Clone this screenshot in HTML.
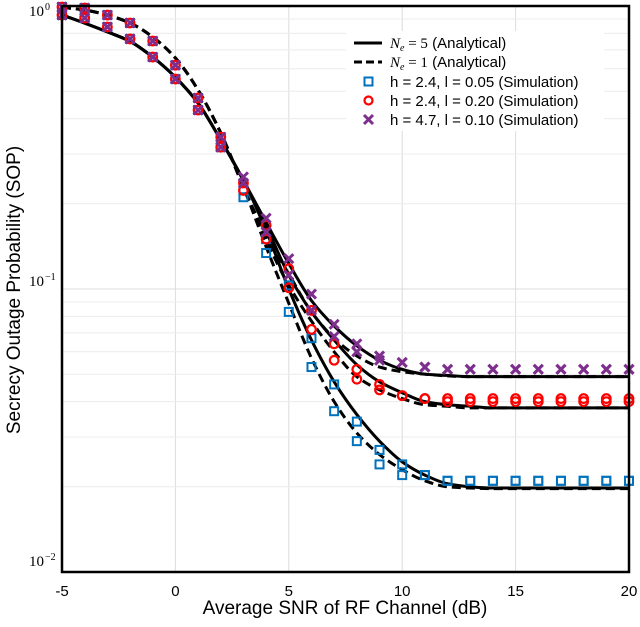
<!DOCTYPE html>
<html><head><meta charset="utf-8"><style>
body{margin:0;background:#fff;}
svg{display:block;font-family:"Liberation Sans",sans-serif;}
</style></head><body>
<svg id="chart" width="640" height="627" viewBox="0 0 640 627">
<rect width="640" height="627" fill="#fff"/>
<g id="grid"></g>
<g id="curves"></g>
<g id="markers"></g>
<rect x="62" y="6" width="567" height="566" fill="none" stroke="#000" stroke-width="2.5"/>
<g id="xticks"></g>
<g id="yticks"></g>
<text x="345" y="614" font-size="19" text-anchor="middle">Average SNR of RF Channel (dB)</text>
<text transform="translate(20,290) rotate(-90)" font-size="19" text-anchor="middle">Secrecy Outage Probability (SOP)</text>
<g id="legend">
<rect x="346" y="31" width="258" height="100" fill="#fff"/>
<g>
<line x1="354" y1="43" x2="382" y2="43" stroke="#000" stroke-width="3"/>
<text x="390" y="48" font-size="15"><tspan font-family="Liberation Serif" font-style="italic">N<tspan font-size="10" dy="3">e</tspan></tspan><tspan dy="-3" font-family="Liberation Serif"> = 5</tspan> (Analytical)</text></g>
<g>
<line x1="354" y1="62" x2="382" y2="62" stroke="#000" stroke-width="3" stroke-dasharray="8,4"/>
<text x="390" y="67" font-size="15"><tspan font-family="Liberation Serif" font-style="italic">N<tspan font-size="10" dy="3">e</tspan></tspan><tspan dy="-3" font-family="Liberation Serif"> = 1</tspan> (Analytical)</text></g>
<g>
<rect x="364.5" y="77.5" width="8" height="8" fill="none" stroke="#0072BD" stroke-width="2"/>
<text x="390" y="87" font-size="15">h = 2.4, l = 0.05 (Simulation)</text></g>
<g>
<circle cx="368.5" cy="100.5" r="4" fill="none" stroke="#f00" stroke-width="2.2"/>
<text x="390" y="106" font-size="15">h = 2.4, l = 0.20 (Simulation)</text></g>
<g>
<path d="M364,115 L373,124 M373,115 L364,124" stroke="#7E2F8E" stroke-width="3"/>
<text x="390" y="125" font-size="15">h = 4.7, l = 0.10 (Simulation)</text></g>
</g>
</svg>
<script>
const xs = [-5,-4,-3,-2,-1,0,1,2,3,4,5,6,7,8,9,10,11,12,13,14,15,16,17,18,19,20];
const xTicks = [-5,0,5,10,15,20];
const yTickExp = [0,-1,-2];
const early5 = [0.93,0.87,0.81,0.75,0.66,0.56,0.454,0.336,0.242];
const early1 = [0.99,0.968,0.929,0.871,0.777,0.655,0.505,0.356,0.229];
const purpleSolid = early5.concat([0.172,0.123,0.091,0.074,0.063,0.056,0.052,0.050,0.0495,0.049,0.049,0.049,0.049,0.049,0.049,0.049,0.049]);
const purpleDash  = early1.concat([0.155,0.113,0.083,0.067,0.058,0.053,0.051,0.050,0.0493,0.049,0.049,0.049,0.049,0.049,0.049,0.049,0.049]);
const redSolid = early5.concat([0.167,0.112,0.083,0.066,0.054,0.047,0.043,0.040,0.039,0.0385,0.038,0.038,0.038,0.038,0.038,0.038,0.038]);
const redDash  = early1.concat([0.149,0.103,0.077,0.060,0.049,0.044,0.041,0.039,0.0385,0.038,0.038,0.038,0.038,0.038,0.038,0.038,0.038]);
const blueSolid = early5.concat([0.161,0.100,0.066,0.047,0.036,0.029,0.0245,0.022,0.0205,0.020,0.0198,0.0198,0.0198,0.0198,0.0198,0.0198,0.0198]);
const blueDash  = early1.concat([0.141,0.089,0.057,0.040,0.031,0.026,0.023,0.021,0.020,0.0198,0.0197,0.0197,0.0197,0.0197,0.0197,0.0197,0.0197]);
const earlyA = [0.992,0.984,0.929,0.871,0.752,0.618,0.473,0.344];
const earlyB = [0.929,0.907,0.843,0.765,0.660,0.552,0.429,0.317];
const blueSimA = earlyA.concat([0.223,0.150,0.103,0.067,0.046,0.034,0.027,0.024,0.022,0.021,0.021,0.021,0.021,0.021,0.021,0.021,0.021,0.021]);
const blueSimB = earlyB.concat([0.211,0.134,0.083,0.053,0.037,0.029,0.024,0.022,0.022,0.021,0.021,0.021,0.021,0.021,0.021,0.021,0.021,0.021]);
const redSimA = earlyA.concat([0.237,0.168,0.118,0.084,0.064,0.052,0.046,0.042,0.041,0.041,0.041,0.041,0.041,0.041,0.041,0.041,0.041,0.041]);
const redSimB = earlyB.concat([0.223,0.150,0.101,0.072,0.056,0.048,0.044,0.042,0.041,0.040,0.040,0.040,0.040,0.040,0.040,0.040,0.040,0.040]);
const purpleSimA = earlyA.concat([0.249,0.178,0.128,0.096,0.075,0.064,0.058,0.055,0.053,0.052,0.052,0.052,0.052,0.052,0.052,0.052,0.052,0.052]);
const purpleSimB = earlyB.concat([0.237,0.159,0.112,0.084,0.068,0.060,0.056,0.055,0.053,0.052,0.052,0.052,0.052,0.052,0.052,0.052,0.052,0.052]);

const NS='http://www.w3.org/2000/svg';
const L=62,R=629,T=6,B=572, XMIN=-5,XMAX=20, LMAX=0,LMIN=-2;
function sx(x){return L+(x-XMIN)/(XMAX-XMIN)*(R-L);}
function sy(v){return T+(LMAX-Math.log10(v))/(LMAX-LMIN)*(B-T);}
function mk(tag,attrs,parent){const e=document.createElementNS(NS,tag);for(const k in attrs)e.setAttribute(k,attrs[k]);parent.appendChild(e);return e;}

const grid=document.getElementById('grid');
xTicks.forEach(t=>{const g=mk('line',{x1:sx(t),x2:sx(t),y1:T,y2:B,stroke:'#dcdcdc','stroke-width':1},grid);

});
for(let d=-2;d<0;d++){for(let m=1;m<=9;m++){const v=m*Math.pow(10,d);if(v<=0.01)continue;const y=sy(v);
const g=mk('line',{x1:L,x2:R,y1:y,y2:y,stroke:m===1?'#dcdcdc':'#ececec','stroke-width':1},grid);

}}

const xt=document.getElementById('xticks');
xTicks.forEach(t=>{const e=mk('text',{x:sx(t),y:596,'font-size':15,'text-anchor':'middle'},xt);e.textContent=String(t);

});
const yt=document.getElementById('yticks');
yTickExp.forEach(p=>{const y=sy(Math.pow(10,p));
const yy = p===0 ? 16 : (p===-2 ? 566 : y-3);
const e=mk('text',{x:44,y:yy,'font-size':15,'text-anchor':'end','font-family':'Liberation Serif'},yt);


const a=mk('tspan',{},e);a.textContent='10';
const b=mk('text',{x:45,y:yy-6,'font-size':10,'font-family':'Liberation Serif'},yt);
b.textContent=p===0?'0':'\u2212'+Math.abs(p);

});

function path(vals){const P=xs.map((x,i)=>[sx(x),sy(vals[i])]);const n=P.length;
const dl=[],m=[];for(let i=0;i<n-1;i++)dl.push((P[i+1][1]-P[i][1])/(P[i+1][0]-P[i][0]));
m[0]=dl[0];m[n-1]=dl[n-2];
for(let i=1;i<n-1;i++){if(dl[i-1]*dl[i]<=0)m[i]=0;else m[i]=2/(1/dl[i-1]+1/dl[i]);}
let d='M'+P[0][0]+','+P[0][1];
for(let i=0;i<n-1;i++){const h=(P[i+1][0]-P[i][0])/3;
d+=' C'+(P[i][0]+h)+','+(P[i][1]+m[i]*h)+' '+(P[i+1][0]-h)+','+(P[i+1][1]-m[i+1]*h)+' '+P[i+1][0]+','+P[i+1][1];}
return d;}
const cg=document.getElementById('curves');
[[blueDash,true,'blue-ne1-curve'],[redDash,true,'red-ne1-curve'],[purpleDash,true,'purple-ne1-curve'],[blueSolid,false,'blue-ne5-curve'],[redSolid,false,'red-ne5-curve'],[purpleSolid,false,'purple-ne5-curve']].forEach(c=>{
const e=mk('path',{d:path(c[0]),fill:'none',stroke:'#000','stroke-width':3},cg);
if(c[1])e.setAttribute('stroke-dasharray','9,5');

});

const mg=document.getElementById('markers');
function sq(vals){xs.forEach((x,i)=>{const e=mk('rect',{x:sx(x)-4,y:sy(vals[i])-4,width:8,height:8,fill:'none',stroke:'#0072BD','stroke-width':2},mg);

});}
function ci(vals){xs.forEach((x,i)=>{const e=mk('circle',{cx:sx(x),cy:sy(vals[i]),r:4.3,fill:'none',stroke:'#ff0000','stroke-width':2.2},mg);

});}
function cr(vals){xs.forEach((x,i)=>{const X=sx(x),Y=sy(vals[i]);const e=mk('path',{d:`M${X-4.5},${Y-4.5}L${X+4.5},${Y+4.5}M${X+4.5},${Y-4.5}L${X-4.5},${Y+4.5}`,stroke:'#7E2F8E','stroke-width':3},mg);

});}
sq(blueSimA);sq(blueSimB);ci(redSimA);ci(redSimB);cr(purpleSimA);cr(purpleSimB);
</script>
</body></html>
